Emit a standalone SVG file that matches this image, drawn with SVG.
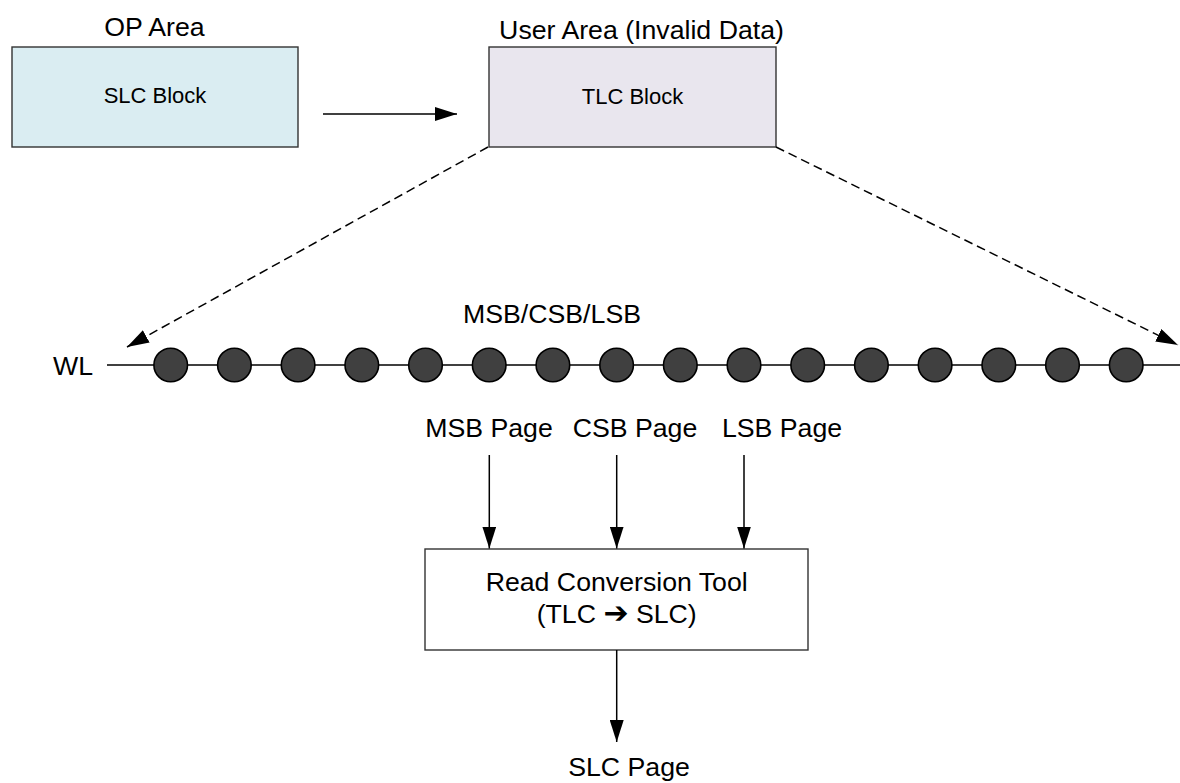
<svg xmlns="http://www.w3.org/2000/svg" width="1180" height="783" viewBox="0 0 1180 783">
<style>
text{font-family:"Liberation Sans",Arial,sans-serif;fill:#000}
.t{font-size:26.7px}
.s{font-size:22px}
.box{stroke:#333;stroke-width:1.4}
.ln{stroke:#000;stroke-width:1.5;fill:none}
.dash{stroke-dasharray:9,5}
.cell{fill:#404040;stroke:#000;stroke-width:1.6}
</style>
<defs>
<marker id="ah" markerUnits="userSpaceOnUse" markerWidth="22" markerHeight="14" refX="22" refY="7" orient="auto" viewBox="0 0 22 14">
<path d="M0,0 L22,7 L0,14 z" fill="#000"/>
</marker>
</defs>
<g id="op-area">
<text class="t" x="154.5" y="36" text-anchor="middle">OP Area</text>
<rect class="box" x="12" y="47" width="286" height="100" fill="#daedf2"/>
<text class="s" x="155" y="103" text-anchor="middle">SLC Block</text>
</g>
<g id="user-area">
<text class="t" x="641.5" y="39" text-anchor="middle">User Area (Invalid Data)</text>
<rect class="box" x="489" y="47" width="287" height="100" fill="#e9e6ee"/>
<text class="s" x="632.5" y="104" text-anchor="middle">TLC Block</text>
</g>
<g id="wordline">
<text class="t" x="93" y="375" text-anchor="end">WL</text>
<text class="t" x="463" y="323">MSB/CSB/LSB</text>
<line class="ln" x1="107" y1="365" x2="1180" y2="365"/>
<circle class="cell" cx="170.7" cy="365" r="16.8"/>
<circle class="cell" cx="234.4" cy="365" r="16.8"/>
<circle class="cell" cx="298.1" cy="365" r="16.8"/>
<circle class="cell" cx="361.8" cy="365" r="16.8"/>
<circle class="cell" cx="425.5" cy="365" r="16.8"/>
<circle class="cell" cx="489.2" cy="365" r="16.8"/>
<circle class="cell" cx="552.9" cy="365" r="16.8"/>
<circle class="cell" cx="616.6" cy="365" r="16.8"/>
<circle class="cell" cx="680.3" cy="365" r="16.8"/>
<circle class="cell" cx="744.0" cy="365" r="16.8"/>
<circle class="cell" cx="807.7" cy="365" r="16.8"/>
<circle class="cell" cx="871.4" cy="365" r="16.8"/>
<circle class="cell" cx="935.1" cy="365" r="16.8"/>
<circle class="cell" cx="998.8" cy="365" r="16.8"/>
<circle class="cell" cx="1062.5" cy="365" r="16.8"/>
<circle class="cell" cx="1126.2" cy="365" r="16.8"/>
</g>
<g id="pages">
<text class="t" x="489" y="437" text-anchor="middle">MSB Page</text>
<text class="t" x="635" y="437" text-anchor="middle">CSB Page</text>
<text class="t" x="782" y="437" text-anchor="middle">LSB Page</text>
</g>
<g id="read-conversion-tool">
<rect class="box" x="425" y="549" width="383" height="101" fill="#fff"/>
<text class="t" x="616.7" y="591" text-anchor="middle">Read Conversion Tool</text>
<text class="t" x="616.7" y="623" text-anchor="middle">(TLC <tspan font-family="DejaVu Sans" font-weight="bold" font-size="30px">➔</tspan> SLC)</text>
</g>
<g id="slc-page">
<text class="t" x="629" y="776" text-anchor="middle">SLC Page</text>
</g>
<g id="connectors">
<line class="ln" x1="323" y1="114" x2="457" y2="114" marker-end="url(#ah)"/>
<line class="ln dash" x1="488" y1="147" x2="127" y2="347" marker-end="url(#ah)"/>
<line class="ln dash" x1="776" y1="147" x2="1178" y2="345" marker-end="url(#ah)"/>
<line class="ln" x1="489.3" y1="455" x2="489.3" y2="548.5" marker-end="url(#ah)"/>
<line class="ln" x1="616.7" y1="455" x2="616.7" y2="548.5" marker-end="url(#ah)"/>
<line class="ln" x1="744" y1="455" x2="744" y2="548.5" marker-end="url(#ah)"/>
<line class="ln" x1="616.7" y1="650" x2="616.7" y2="742" marker-end="url(#ah)"/>
</g>
</svg>
